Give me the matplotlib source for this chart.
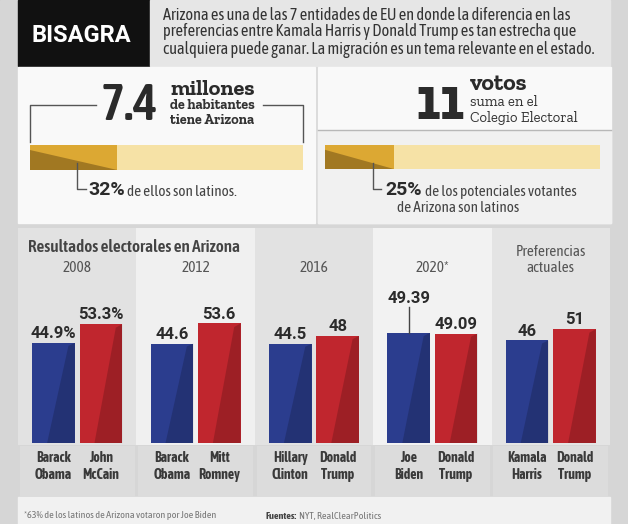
import matplotlib
matplotlib.use("Agg")
import matplotlib.pyplot as plt
import numpy as np
from matplotlib.patches import Rectangle, Polygon

# election results, Arizona
years = ["2008", "2012", "2016", "2020*", "Preferencias\nactuales"]
dem_names = ["Barack\nObama", "Barack\nObama", "Hillary\nClinton", "Joe\nBiden", "Kamala\nHarris"]
rep_names = ["John\nMcCain", "Mitt\nRomney", "Donald\nTrump", "Donald\nTrump", "Donald\nTrump"]
dem_values = [44.9, 44.6, 44.5, 49.39, 46]
rep_values = [53.3, 53.6, 48, 49.09, 51]
dem_labels = ["44.9%", "44.6", "44.5", "49.39", "46"]
rep_labels = ["53.3%", "53.6", "48", "49.09", "51"]

# headline figures
population_millions = "7.4"
electoral_votes = "11"
latino_share = 32
latino_voter_share = 25

NARROW = ["Asap Condensed", "Roboto", "DejaVu Sans"]
SLAB = ["Roboto Slab", "Zilla Slab", "Bitter", "Arvo", "Rokkitt", "Noticia Text", "DejaVu Serif"]
SANS = ["Roboto", "DejaVu Sans"]
BLUE = "#2b3d8e"
RED = "#c0262e"
GOLD = "#dca833"
GOLD_LIGHT = "#f6e2a6"
INK = "#2b2b2b"

W, H = 628, 524
fig = plt.figure(figsize=(W / 100, H / 100), dpi=100)


def pixel_axes(zorder):
    a = fig.add_axes([0, 0, 1, 1], zorder=zorder)
    a.set_xlim(0, W)
    a.set_ylim(H, 0)
    a.axis("off")
    a.patch.set_alpha(0)
    return a


def rect_from_px(x0, y0, x1, y1):
    return [x0 / W, (H - y1) / H, (x1 - x0) / W, (y1 - y0) / H]


bg = pixel_axes(0)
bg.add_patch(Rectangle((0, 0), W, H, color="#d6d6d6"))


def edge_strip(x0, x1, stops):
    ys = np.arange(H)
    pos = [s[0] for s in stops]
    cols = np.array([matplotlib.colors.to_rgb(s[1]) for s in stops])
    img = np.stack([np.interp(ys, pos, cols[:, k]) for k in range(3)], axis=-1)[:, None, :]
    bg.imshow(img, extent=(x0, x1, H, 0), aspect="auto", zorder=0.5)


edge_strip(0, 18, [(0, "#8a8a8a"), (60, "#e0e0e0"), (110, "#caa24e"), (200, "#d8c08a"),
                   (260, "#ececec"), (360, "#c8c8d8"), (400, "#3b4b9a"), (470, "#4a5aa0"),
                   (500, "#c0c0c0"), (524, "#a8a8a8")])
edge_strip(610, 628, [(0, "#cfcfcf"), (200, "#e8e8e8"), (260, "#f2f2f2"), (300, "#b84048"),
                      (360, "#a82a32"), (400, "#e8e0e0"), (440, "#b02a32"), (480, "#c8c8c8"),
                      (524, "#b0b0b0")])

# header
bg.add_patch(Rectangle((18, 0), 132, 66, color="#111111", zorder=1))
bg.add_patch(Rectangle((150, 0), 460, 66, color="#e6e6e6", zorder=1))
# top panels
bg.add_patch(Rectangle((18, 67), 297, 156, color="#f9f9f9", zorder=1))
bg.add_patch(Rectangle((318, 67), 293, 156, color="#f9f9f9", zorder=1))
bg.add_patch(Rectangle((318, 131), 293, 92, color="#f1f1f1", zorder=1))
bg.plot([318, 611], [130, 130], color="#b8b8b8", lw=1, zorder=2)
# footer
bg.add_patch(Rectangle((18, 497), 592, 27, color="#f1f1f1", zorder=1))

fx = pixel_axes(10)


def follow(prev, s, gap=3, **kw):
    # place a text right after another one, sharing its baseline
    return fx.annotate(s, xy=(1, 0), xycoords=prev, xytext=(gap, 0),
                       textcoords="offset pixels", ha="left", va="bottom", **kw)


fx.text(81, 35, "BISAGRA", color="white", fontsize=17, fontweight="bold",
        family=SANS, ha="center", va="center")
header_lines = [
    "Arizona es una de las 7 entidades de EU en donde la diferencia en las",
    "preferencias entre Kamala Harris y Donald Trump es tan estrecha que",
    "cualquiera puede ganar. La migración es un tema relevante en el estado.",
]
for i, line in enumerate(header_lines):
    fx.text(163, 15 + i * 17, line, color="#333333", fontsize=11.8,
            family=NARROW, ha="left", va="center")

# left panel: population
fx.text(158, 120, population_millions, color=INK, fontsize=37, fontweight="semibold",
        family=NARROW, ha="right", va="baseline")
fx.text(170, 95, "millones", color=INK, fontsize=16, fontweight="bold", family=SLAB,
        ha="left", va="baseline")
fx.text(170, 109, "de habitantes", color="#333333", fontsize=10.2, fontweight="bold",
        family=SLAB, ha="left", va="baseline")
fx.text(170, 124, "tiene Arizona", color="#333333", fontsize=10.2, fontweight="bold",
        family=SLAB, ha="left", va="baseline")
fx.plot([30, 30, 96], [142, 105, 105], color="#555555", lw=1)
fx.plot([263, 303, 303], [105, 105, 142], color="#555555", lw=1)
fx.plot([77, 77, 86], [163, 189, 189], color="#555555", lw=1)
t = fx.text(88, 195, f"{latino_share}%", color=INK, fontsize=14, fontweight="bold",
            family=SANS, ha="left", va="baseline")
follow(t, "de ellos son latinos.", gap=2, color="#444444", fontsize=11, family=NARROW)

# right panel: electoral votes
fx.text(465, 119, electoral_votes, color=INK, fontsize=44, fontweight="heavy",
        family=SLAB, ha="right", va="baseline")
fx.text(470, 90, "votos", color=INK, fontsize=17, fontweight="bold", family=SLAB,
        ha="left", va="baseline")
fx.text(470, 106, "suma en el", color="#333333", fontsize=10.6, family=SLAB,
        ha="left", va="baseline")
fx.text(470, 122, "Colegio Electoral", color="#333333", fontsize=10.6, family=SLAB,
        ha="left", va="baseline")
fx.plot([373, 373, 381], [163, 189, 189], color="#555555", lw=1)
t = fx.text(385, 195, f"{latino_voter_share}%", color=INK, fontsize=14, fontweight="bold",
            family=SANS, ha="left", va="baseline")
follow(t, "de los potenciales votantes", gap=3, color="#444444", fontsize=11, family=NARROW)
fx.text(397, 212, "de Arizona son latinos", color="#444444", fontsize=11,
        family=NARROW, ha="left", va="baseline")


def share_bar(px_rect, share):
    a = fig.add_axes(rect_from_px(*px_rect), zorder=5)
    a.set_xlim(0, 100)
    a.set_ylim(0, 1)
    a.axis("off")
    a.barh(0.5, 100, height=1, color=GOLD_LIGHT)
    a.barh(0.5, share, height=1, color=GOLD)
    a.add_patch(Polygon([(0, 0), (share, 0), (0, 0.8)], color="#7a5818", alpha=0.6, lw=0))


share_bar((30, 145, 303, 170), latino_share)
share_bar((325, 145, 600, 169), latino_voter_share)

# results chart
PX_PER_UNIT = 2.23
base_y, top_y, bottom_y = 443, 228, 497
bx = fig.add_axes(rect_from_px(18, top_y, 610, bottom_y), zorder=4)
bx.set_xlim(-0.5, len(years) - 0.5)
bx.set_ylim(-(bottom_y - base_y) / PX_PER_UNIT, (base_y - top_y) / PX_PER_UNIT)
bx.axis("off")
ymin, ymax = bx.get_ylim()
x = np.arange(len(years))

col_bg = ["#e2e2e2", "#f0f0f0", "#e2e2e2", "#f2f2f2", "#e4e4e4"]
bx.bar(x, ymax + 1, bottom=-1, width=1.0, color=col_bg, zorder=0)
bx.bar(x, ymin + 1.2, bottom=-1.2, width=0.97, color="#dcdcdc", zorder=1)

w, off = 0.36, 0.2
dem_bars = bx.bar(x - off, dem_values, width=w, color=BLUE, zorder=3)
rep_bars = bx.bar(x + off, rep_values, width=w, color=RED, zorder=3)
for patch in list(dem_bars) + list(rep_bars):
    x0, bw, h = patch.get_x(), patch.get_width(), patch.get_height()
    bx.add_patch(Polygon([(x0 + 0.85 * bw, h * 0.97), (x0 + bw, h), (x0 + bw, 0), (x0 + 0.35 * bw, 0)],
                         color="black", alpha=0.18, lw=0, zorder=4))

name_kw = dict(ha="center", va="baseline", fontsize=10, fontweight="bold", family=NARROW,
               color="#3a3a3a", linespacing=1.3, zorder=5)
for i in range(len(years)):
    if i == 3:
        bx.plot([x[i] - off, x[i] - off], [dem_values[i], dem_values[i] + 11.5],
                color="#444444", lw=1, zorder=5)
        dem_y = dem_values[i] + 13.5
    else:
        dem_y = dem_values[i] + 2.2
    bx.text(x[i] - off, dem_y, dem_labels[i], ha="center", va="baseline", fontsize=12,
            fontweight="bold", family=SANS, color=INK, zorder=5)
    bx.text(x[i] + off, rep_values[i] + 2.2, rep_labels[i], ha="center", va="baseline",
            fontsize=12, fontweight="bold", family=SANS, color=INK, zorder=5)
    name_y = -(479 - base_y) / PX_PER_UNIT
    bx.text(x[i] - off, name_y, dem_names[i], **name_kw)
    bx.text(x[i] + off, name_y, rep_names[i], **name_kw)
    year_y = (base_y - 268) / PX_PER_UNIT
    bx.text(x[i], year_y + (3.5 if "\n" in years[i] else 0), years[i], ha="center", va="center",
            fontsize=11, family=NARROW, color="#555555", linespacing=1.2, zorder=5)

fx.text(28, 247, "Resultados electorales en Arizona", color="#444444", fontsize=12.3,
        fontweight="semibold", family=NARROW, ha="left", va="center")

fx.text(24, 516, "*63% de los latinos de Arizona votaron por Joe Biden", color="#777777",
        fontsize=7.3, family=NARROW, ha="left", va="center")
t = fx.text(266, 519, "Fuentes:", color="#444444", fontsize=7.3, fontweight="bold",
            family=NARROW, ha="left", va="baseline")
follow(t, "NYT, RealClearPolitics", gap=2, color="#777777", fontsize=7.3, family=NARROW)

fig.savefig("out.png", dpi=100)
